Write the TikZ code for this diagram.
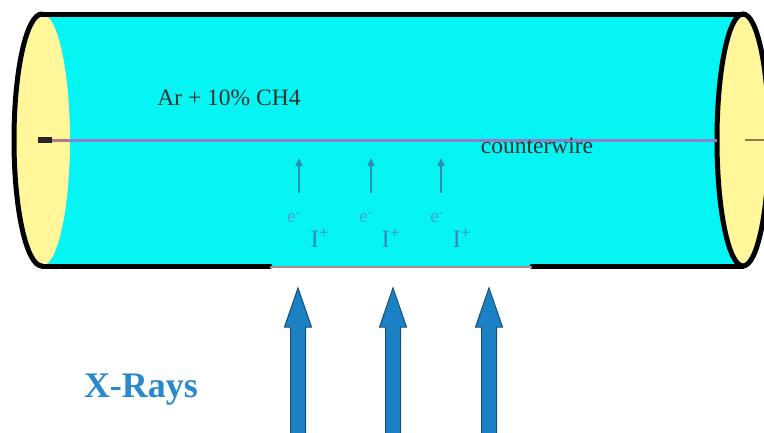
\documentclass[tikz,border=0pt]{standalone}
\usepackage{fontspec}
\setmainfont{Liberation Serif}
\usetikzlibrary{arrows.meta}
\definecolor{gasfill}{HTML}{05F4F4}
\definecolor{capfill}{HTML}{FFF799}
\definecolor{wirecol}{HTML}{8A80D0}
\definecolor{wirelead}{HTML}{C8745E}
\definecolor{windowcol}{HTML}{B08890}
\definecolor{electroncol}{HTML}{45A2D2}
\definecolor{ioncol}{HTML}{2F8CC2}
\definecolor{driftcol}{HTML}{2E8DB8}
\definecolor{raycol}{HTML}{1B80C4}
\definecolor{rayedge}{HTML}{1A4F7A}
\definecolor{xlabel}{HTML}{2A88CC}
\definecolor{endlead}{HTML}{8C7D45}
\tikzset{
  outline/.style={line width=5pt, line cap=round},
  gastext/.style={font=\fontsize{23.5}{26}\selectfont, text=black!80, inner sep=0pt},
  elabel/.style={font=\fontsize{19}{22}\selectfont, text=electroncol, inner sep=0pt},
  ionlabel/.style={font=\fontsize{25}{28}\selectfont, text=ioncol, inner sep=0pt},
  drift/.style={draw=driftcol, line width=1.3pt, -{Triangle[length=8pt,width=7pt]}},
  xray/.style={draw=rayedge, fill=raycol, line width=1pt, line join=miter},
}
\begin{document}
\begin{tikzpicture}[x=1pt,y=-1pt]
\useasboundingbox (0,0) rectangle (764,432);
\clip (0,0) rectangle (764,432);
\fill[white] (0,0) rectangle (764,432);

% gas volume
\fill[gasfill] (42,14) rectangle (743,266);
% left end cap: only its outer half is outlined
\fill[capfill] (42,140) ellipse [x radius=28, y radius=126];
\draw[outline] (42,14) arc [start angle=270, end angle=90, x radius=28, y radius=126];
% right end cap
\fill[capfill] (743,140) ellipse [x radius=26, y radius=126];
\draw[outline] (743,140) ellipse [x radius=26, y radius=126];
% tube walls, with the thin entrance window in the lower wall
\draw[outline] (42,14) -- (743,14);
\draw[outline] (42,266) -- (270,266);
\draw[outline] (532,266) -- (743,266);
\draw[windowcol, line width=1.8pt] (270,267) -- (532,267);

% anode wire
\node (wireend) [fill=black!85, minimum width=14pt, minimum height=6pt, inner sep=0pt] at (45,140) {};
\coordinate (wirein) at (717,140);
\draw[wirecol, line width=3pt] (wireend.east) -- (wirein);
\draw[wirelead, line width=2.4pt] (wireend.east) -- (68,140);
\coordinate (leadout) at (764,140);
\draw[endlead, line width=1.6pt] (745,140) -- (leadout);

% labels
\node (gas) [gastext] at (229,98) {Ar + 10\% CH4};
\node (cw) [gastext] at (537,146) {counterwire};

% electrons and ions with drift arrows
\foreach \i/\ex/\ix/\ax in {1/294/320/299, 2/366/391/371, 3/437/462/441}{
  \node (e\i) [elabel] at (\ex,218) {e\textsuperscript{-}};
  \node (ion\i) [ionlabel] at (\ix,238) {I\textsuperscript{+}};
  \coordinate (dtail\i) at (\ax,193);
  \coordinate (dtip\i) at (\ax,158);
  \draw[drift] (dtail\i) -- (dtip\i);
}

% incoming X-rays: block arrows entering through the window
\foreach \i/\x in {1/298,2/393,3/489}{
  \coordinate (ray\i) at (\x,288);
  \draw[xray] (ray\i) -- ++(13.5,39) -- ++(-6,0) -- ++(0,120)
     -- ++(-15,0) -- ++(0,-120) -- ++(-6,0) -- cycle;
}
\node (xr) [font=\fontsize{36}{40}\selectfont\bfseries, text=xlabel, inner sep=0pt] at (141,390) {X-Rays};
\end{tikzpicture}
\end{document}
